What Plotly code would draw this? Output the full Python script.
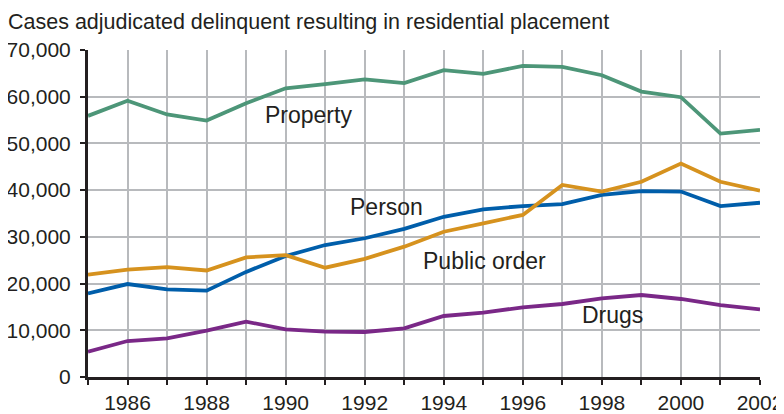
import plotly.graph_objects as go

years = list(range(1985, 2003))
property_cases = [55900, 59150, 56200, 54900, 58600, 61800, 62700, 63700, 62900, 65700,
                  64900, 66600, 66400, 64600, 61100, 59900, 52100, 52900]
person_cases = [17900, 19900, 18770, 18480, 22500, 25900, 28250, 29700, 31700, 34300,
                35900, 36600, 37000, 39000, 39800, 39700, 36600, 37300]
public_order_cases = [21900, 23000, 23500, 22800, 25600, 26100, 23400, 25300, 27900, 31100,
                      32900, 34700, 41100, 39700, 41800, 45700, 41800, 39900]
drugs_cases = [5420, 7700, 8280, 9920, 11850, 10200, 9700, 9630, 10420, 13060,
               13770, 14920, 15630, 16840, 17550, 16700, 15400, 14490]

series = [
    ("Property", property_cases, "#4d9678"),
    ("Person", person_cases, "#005eaa"),
    ("Public order", public_order_cases, "#d6921e"),
    ("Drugs", drugs_cases, "#7a2887"),
]

y_ticks = [0, 10000, 20000, 30000, 40000, 50000, 60000, 70000]
y_tick_text = ["0", "10,000", "20,000", "30,000", "40,000", "50,000", "60,000", "70,000"]
x_tick_text = [str(y) if y % 2 == 0 else "" for y in years]

title_text = "Cases adjudicated delinquent resulting in residential placement"

# label placements (styling)
labels = [
    ("Property", 1989.43, 56100),
    ("Person", 1991.58, 36400),
    ("Public order", 1993.42, 24830),
    ("Drugs", 1997.45, 13270),
]

text_color = "#231f20"
font_family = "Liberation Sans, Arial, sans-serif"

fig = go.Figure()
for name, vals, color in series:
    fig.add_trace(go.Scatter(x=years, y=vals, mode="lines", name=name,
                             line=dict(color=color, width=3.8), showlegend=False,
                             cliponaxis=False))

for text, lx, ly in labels:
    fig.add_annotation(x=lx, y=ly, xref="x", yref="y", text=text, showarrow=False,
                       xanchor="left", yanchor="middle",
                       font=dict(size=23, color=text_color, family=font_family))

# the page body has an 8px default margin, so the figure is sized to fit the window
W, H = 776, 406
fig.update_layout(
    width=W, height=H,
    margin=dict(l=80, r=24, t=42, b=37, autoexpand=False),
    paper_bgcolor="white", plot_bgcolor="white",
    font=dict(family=font_family, color=text_color, size=20),
    title=dict(text=title_text, x=0, xanchor="left", xref="container",
               y=1 - 13 / H, yanchor="middle", yref="container",
               font=dict(size=21.5, color=text_color, family=font_family)),
)
fig.update_xaxes(range=[1985, 2002], tickvals=years, ticktext=x_tick_text,
                 automargin=False,
                 showgrid=True, gridcolor="#b8babd", gridwidth=2.3,
                 showline=True, linecolor="#231f20", linewidth=3,
                 ticks="outside", ticklen=5, tickwidth=2, tickcolor="#231f20",
                 tickfont=dict(size=21, color=text_color), zeroline=False)
fig.update_yaxes(range=[0, 70000], tickvals=y_ticks, ticktext=y_tick_text,
                 automargin=False,
                 showgrid=True, gridcolor="#b8babd", gridwidth=2.3,
                 showline=True, linecolor="#231f20", linewidth=3,
                 ticks="outside", ticklen=5, tickwidth=2, tickcolor="#231f20",
                 ticklabelstandoff=5,
                 tickfont=dict(size=21, color=text_color), zeroline=False)

fig.write_html("out.html")
